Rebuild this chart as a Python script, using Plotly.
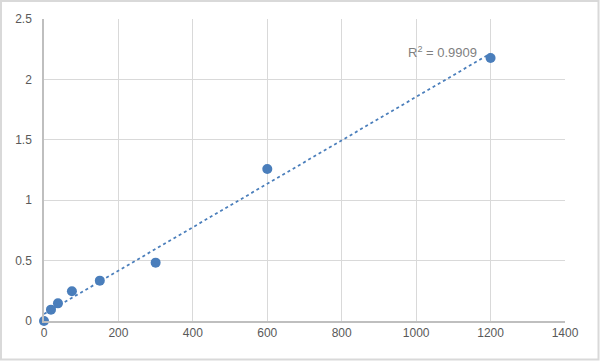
import numpy as np
import plotly.graph_objects as go

conc = [0, 18.75, 37.5, 75, 150, 300, 600, 1200]
od = [0.0, 0.094, 0.146, 0.246, 0.334, 0.483, 1.258, 2.177]
x_ticks = [0, 200, 400, 600, 800, 1000, 1200, 1400]
y_ticks = [0, 0.5, 1, 1.5, 2, 2.5]
y_tick_text = ["0", "0.5", "1", "1.5", "2", "2.5"]

slope, intercept = np.polyfit(conc, od, 1)

tx = [0, 1200]
ty = [intercept + slope * v for v in tx]

W, H = 600, 361
L, R, T, B = 44, 35, 19, 40
pw, ph = W - L - R, H - T - B

fig = go.Figure()
fig.add_trace(go.Scatter(x=tx, y=ty, mode="lines",
                         line=dict(color="#4a7ebb", width=1.75, dash="dot"),
                         hoverinfo="skip", showlegend=False))
fig.add_trace(go.Scatter(x=conc, y=od, mode="markers",
                         marker=dict(color="#4a7ebb", size=10),
                         showlegend=False, cliponaxis=False))

fig.add_annotation(x=1200, y=2.177, xref="x", yref="y",
                   text="R<sup>2</sup> = 0.9909", showarrow=False,
                   xanchor="right", yanchor="middle", xshift=-12, yshift=6,
                   font=dict(family="Liberation Sans, Arial", size=13, color="#7f7f7f"))

def px_to_paper_x(px):
    return (px - L) / pw

def px_to_paper_y(py):
    return (H - B - py) / ph

fig.add_shape(type="rect", xref="paper", yref="paper",
              x0=px_to_paper_x(1), x1=px_to_paper_x(598.5),
              y0=px_to_paper_y(359.5), y1=px_to_paper_y(1),
              line=dict(color="#d9d9d9", width=2), fillcolor="rgba(0,0,0,0)", layer="below")

font = dict(family="Liberation Sans, Arial", size=12, color="#595959")
fig.update_layout(
    width=W, height=H,
    margin=dict(l=L, r=R, t=T, b=B),
    paper_bgcolor="white", plot_bgcolor="white",
    xaxis=dict(range=[0, 1400], tickvals=x_ticks, showgrid=True, gridcolor="#d9d9d9",
               gridwidth=1, zeroline=False, showline=True, linecolor="#bfbfbf", linewidth=1.5,
               tickfont=font, ticks="", fixedrange=True),
    yaxis=dict(range=[0, 2.5], tickvals=y_ticks, ticktext=y_tick_text, showgrid=True,
               gridcolor="#d9d9d9", gridwidth=1, zeroline=False, showline=True,
               linecolor="#bfbfbf", linewidth=1.5, tickfont=font, ticks="outside",
               ticklen=8, tickcolor="rgba(0,0,0,0)", fixedrange=True),
)

fig.write_html("out.html")
